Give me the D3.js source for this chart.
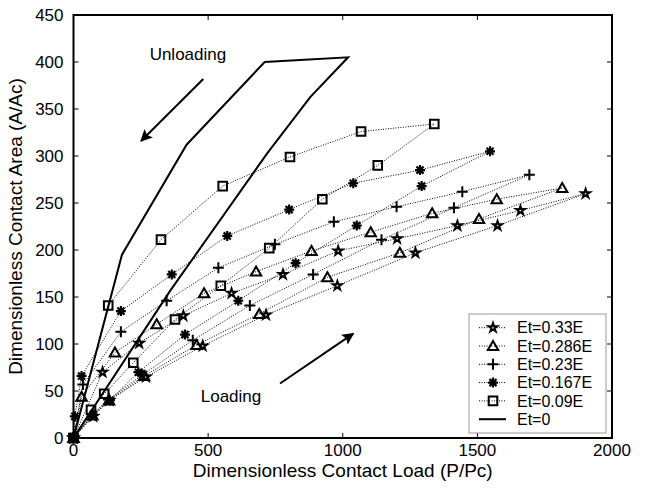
<!DOCTYPE html>
<html lang="en">
<head>
    <meta charset="UTF-8">
    <title>Contact Area vs Load</title>
    <script src="https://cdn.jsdelivr.net/npm/d3@7"></script>
    <style>
        body { margin: 0; background: #fff; font-family: 'Liberation Sans', Arial, sans-serif; }
        svg text { fill: #000; }
    </style>
</head>
<body>
<script>
    // tick labels
    const loadTicks = [0, 500, 1000, 1500, 2000];
    const areaTicks = [0, 50, 100, 150, 200, 250, 300, 350, 400, 450];

    // Et=0.33E (pentagram): loading then unloading
    const et33Load = [0, 73, 133, 269, 480, 715, 980, 1270, 1575, 1902, 1660, 1426, 1202, 983, 778, 587, 408, 244, 108, 0];
    const et33Area = [0, 23, 40, 65, 98, 131, 162, 197, 226, 260, 242, 226, 212, 199, 174, 154, 130, 101, 70, 0];
    // Et=0.286E (triangle)
    const et286Load = [0, 70, 132, 262, 457, 690, 943, 1212, 1506, 1815, 1572, 1332, 1104, 884, 678, 485, 309, 154, 30, 0];
    const et286Area = [0, 24, 40, 66, 99, 132, 171, 197, 233, 266, 254, 239, 219, 199, 177, 154, 121, 91, 44, 0];
    // Et=0.23E (plus)
    const et23Load = [0, 68, 130, 255, 443, 655, 890, 1144, 1413, 1693, 1444, 1200, 967, 748, 538, 346, 176, 35, 0];
    const et23Area = [0, 25, 41, 67, 104, 141, 174, 211, 245, 280, 262, 246, 230, 206, 181, 146, 113, 57, 0];
    // Et=0.167E (asterisk)
    const et167Load = [0, 73, 135, 241, 414, 612, 825, 1052, 1293, 1547, 1287, 1039, 801, 571, 365, 176, 30, 5, 0];
    const et167Area = [0, 25, 40, 70, 110, 146, 186, 226, 268, 305, 285, 271, 243, 215, 174, 135, 66, 23, 0];
    // Et=0.09E (square)
    const et09Load = [0, 65, 114, 222, 377, 547, 727, 924, 1130, 1340, 1068, 804, 554, 325, 129, 0];
    const et09Area = [0, 30, 47, 80, 126, 162, 202, 254, 290, 334, 326, 299, 268, 211, 141, 0];
    // Et=0 (solid line)
    const et0Load = [0, 360, 720, 880, 1020, 710, 420, 180, 0];
    const et0Area = [0, 157, 303, 363, 405, 400, 312, 195, 0];

    const seriesNames = ["Et=0.33E", "Et=0.286E", "Et=0.23E", "Et=0.167E", "Et=0.09E", "Et=0"];
    const seriesMarkers = ["pentagram", "triangle", "plus", "asterisk", "square", "none"];

    // annotations: [text, load, area]
    const labelNotes = [["Unloading", 425, 402], ["Loading", 585, 38]];
    // arrows: [fromLoad, fromArea, toLoad, toArea]
    const arrowNotes = [[482, 382, 251, 316], [767, 58, 1039, 111]];

    const W = 646, H = 489;
    const margin = {top: 15, right: 34, bottom: 51, left: 73.5};
    const width = W - margin.left - margin.right,
          height = H - margin.top - margin.bottom;

    const svg = d3.select("body").append("svg")
        .attr("width", W).attr("height", H);

    const g = svg.append("g")
        .attr("transform", `translate(${margin.left},${margin.top})`);

    const x = d3.scaleLinear().domain([0, 2000]).range([0, width]);
    const y = d3.scaleLinear().domain([0, 450]).range([height, 0]);

    const zip = (xs, ys) => xs.map((v, i) => [v, ys[i]]);
    const series = [
        zip(et33Load, et33Area), zip(et286Load, et286Area), zip(et23Load, et23Area),
        zip(et167Load, et167Area), zip(et09Load, et09Area), zip(et0Load, et0Area)
    ];

    // marker paths, centred at 0,0
    function markerPath(type) {
        const p = d3.path();
        if (type === "pentagram") {
            return d3.symbol(d3.symbolStar, 24)();
        } else if (type === "triangle") {
            p.moveTo(0, -5); p.lineTo(5.2, 4); p.lineTo(-5.2, 4); p.closePath();
        } else if (type === "square") {
            p.rect(-4.3, -4.3, 8.6, 8.6);
        } else if (type === "plus") {
            p.moveTo(-5.5, 0); p.lineTo(5.5, 0); p.moveTo(0, -5.5); p.lineTo(0, 5.5);
        } else if (type === "asterisk") {
            for (let a = 0; a < 4; a++) {
                const t = a * Math.PI / 4, r = 5;
                p.moveTo(-r * Math.cos(t), -r * Math.sin(t));
                p.lineTo(r * Math.cos(t), r * Math.sin(t));
            }
        }
        return p.toString();
    }
    function markerFill(type) {
        return (type === "pentagram") ? "#fff" : "none";
    }
    function markerWidth(type) {
        return (type === "asterisk") ? 2.2 : 2;
    }

    const line = d3.line().x(d => x(d[0])).y(d => y(d[1]));

    // ticks (inside, all four sides)
    const tickLen = 5;
    const ticks = g.append("g").attr("stroke", "#000").attr("stroke-width", 1);
    loadTicks.forEach(t => {
        ticks.append("line").attr("x1", x(t)).attr("x2", x(t)).attr("y1", height).attr("y2", height - tickLen);
        ticks.append("line").attr("x1", x(t)).attr("x2", x(t)).attr("y1", 0).attr("y2", tickLen);
    });
    areaTicks.forEach(t => {
        ticks.append("line").attr("x1", 0).attr("x2", tickLen).attr("y1", y(t)).attr("y2", y(t));
        ticks.append("line").attr("x1", width).attr("x2", width - tickLen).attr("y1", y(t)).attr("y2", y(t));
    });

    // tick labels
    g.append("g").selectAll("text").data(loadTicks).join("text")
        .attr("x", d => x(d)).attr("y", height + 18)
        .attr("text-anchor", "middle").attr("font-size", 17)
        .text(d => d);
    g.append("g").selectAll("text").data(areaTicks).join("text")
        .attr("x", -10).attr("y", d => y(d)).attr("dy", "0.35em")
        .attr("text-anchor", "end").attr("font-size", 17)
        .text(d => d);

    // axis labels
    g.append("text")
        .attr("x", width / 2).attr("y", height + 39)
        .attr("text-anchor", "middle").attr("font-size", 19)
        .text("Dimensionless Contact Load (P/Pc)");
    g.append("text")
        .attr("transform", `translate(${-52},${height / 2}) rotate(-90)`)
        .attr("text-anchor", "middle").attr("font-size", 19)
        .text("Dimensionless Contact Area (A/Ac)");

    // series lines
    series.forEach((pts, i) => {
        const solid = seriesMarkers[i] === "none";
        g.append("path")
            .attr("d", line(pts))
            .attr("fill", "none")
            .attr("stroke", "#000")
            .attr("stroke-width", solid ? 2 : 1)
            .attr("stroke-dasharray", solid ? null : "1,1.5");
    });

    // series markers
    series.forEach((pts, i) => {
        const type = seriesMarkers[i];
        if (type === "none") return;
        g.append("g").selectAll("path").data(pts).join("path")
            .attr("transform", d => `translate(${x(d[0])},${y(d[1])})`)
            .attr("d", markerPath(type))
            .attr("fill", markerFill(type))
            .attr("stroke", "#000")
            .attr("stroke-width", markerWidth(type));
    });

    // annotations
    g.append("g").selectAll("text").data(labelNotes).join("text")
        .attr("x", d => x(d[1])).attr("y", d => y(d[2]))
        .attr("text-anchor", "middle").attr("font-size", 17)
        .text(d => d[0]);

    svg.append("defs").append("marker")
        .attr("id", "arrowhead")
        .attr("viewBox", "0 0 10 10")
        .attr("refX", 9).attr("refY", 5)
        .attr("markerWidth", 6).attr("markerHeight", 6)
        .attr("markerUnits", "strokeWidth")
        .attr("orient", "auto")
        .append("path").attr("d", "M0,0L10,5L0,10L2,5Z").attr("fill", "#000");

    g.append("g").selectAll("line").data(arrowNotes).join("line")
        .attr("x1", d => x(d[0])).attr("y1", d => y(d[1]))
        .attr("x2", d => x(d[2])).attr("y2", d => y(d[3]))
        .attr("stroke", "#000").attr("stroke-width", 2)
        .attr("marker-end", "url(#arrowhead)");

    // axes box
    g.append("rect")
        .attr("width", width).attr("height", height)
        .attr("fill", "none").attr("stroke", "#000").attr("stroke-width", 2);

    // legend
    const lg = g.append("g").attr("transform", `translate(${469 - margin.left},${314 - margin.top})`);
    lg.append("rect").attr("width", 137).attr("height", 119)
        .attr("fill", "#fff").attr("stroke", "#999").attr("stroke-width", 1);
    seriesNames.forEach((name, i) => {
        const row = lg.append("g").attr("transform", `translate(0,${13.7 + i * 18.3})`);
        const type = seriesMarkers[i];
        row.append("line").attr("x1", 10).attr("x2", 37).attr("y1", 0).attr("y2", 0)
            .attr("stroke", "#000")
            .attr("stroke-width", type === "none" ? 2 : 1)
            .attr("stroke-dasharray", type === "none" ? null : "1,1.5");
        if (type !== "none") {
            row.append("path").attr("transform", "translate(24,0)")
                .attr("d", markerPath(type))
                .attr("fill", markerFill(type))
                .attr("stroke", "#000").attr("stroke-width", markerWidth(type));
        }
        row.append("text").attr("x", 48).attr("y", 0).attr("dy", "0.35em")
            .attr("font-size", 16).text(name);
    });
</script>
</body>
</html>
